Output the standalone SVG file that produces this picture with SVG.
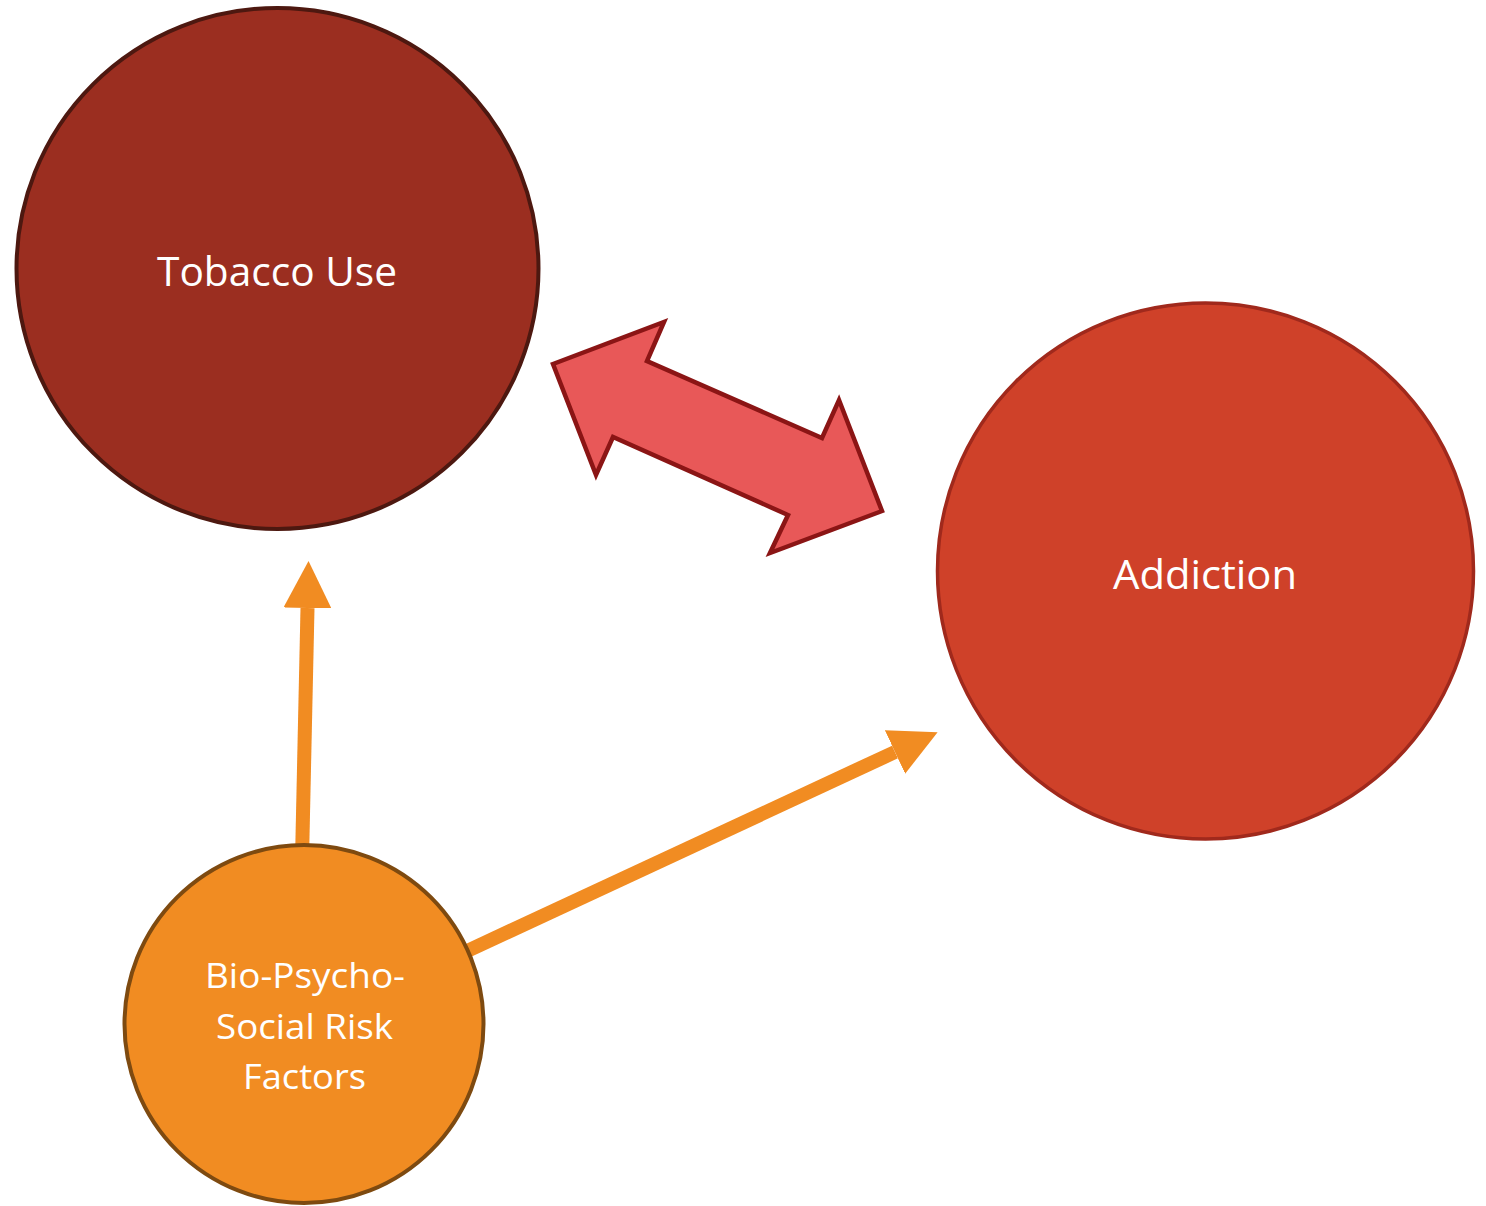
<svg xmlns="http://www.w3.org/2000/svg" width="1486" height="1206" viewBox="0 0 1486 1206">
  <style>
    .label { font-family: "Open Sans", "Liberation Sans", sans-serif; fill: #ffffff; text-anchor: middle; }
    .flow { stroke: #f18c22; stroke-width: 14; fill: none; }
  </style>
  <defs>
    <marker id="head" markerUnits="userSpaceOnUse" viewBox="0 0 47 48" markerWidth="47" markerHeight="48" refX="0" refY="24" orient="auto">
      <path d="M0,0 L47,24 L0,48 Z" fill="#f18c22"/>
    </marker>
  </defs>
  <rect width="1486" height="1206" fill="#ffffff"/>

  <!-- connectors -->
  <g id="connectors">
    <line class="flow" x1="302" y1="860" x2="307.5" y2="608" marker-end="url(#head)"/>
    <line class="flow" x1="450" y1="959" x2="895" y2="752" marker-end="url(#head)"/>
    <polygon id="mutual" points="553,364 664,322 647,361 822,438 839,400 882,511 770,553 788,515 613,437 596,475"
             fill="#e85858" stroke="#8b1515" stroke-width="4.5" stroke-linejoin="miter"/>
  </g>

  <!-- nodes -->
  <g id="tobacco">
    <ellipse cx="277.5" cy="268.5" rx="261" ry="260.5" fill="#9b2e20" stroke="#4d1810" stroke-width="4"/>
    <text class="label" x="277" y="286" font-size="41" textLength="240" lengthAdjust="spacingAndGlyphs">Tobacco Use</text>
  </g>
  <g id="addiction">
    <ellipse cx="1205.5" cy="571" rx="268" ry="268" fill="#cf4129" stroke="#a0291c" stroke-width="3.5"/>
    <text class="label" x="1205" y="589" font-size="41" textLength="184" lengthAdjust="spacingAndGlyphs">Addiction</text>
  </g>
  <g id="risk-factors">
    <ellipse cx="304" cy="1024" rx="179.5" ry="179" fill="#f18c22" stroke="#7e4a10" stroke-width="4"/>
    <text class="label" x="305" y="988" font-size="35" textLength="200" lengthAdjust="spacingAndGlyphs">Bio-Psycho-</text>
    <text class="label" x="304.5" y="1039" font-size="35" textLength="177" lengthAdjust="spacingAndGlyphs">Social Risk</text>
    <text class="label" x="304.5" y="1089" font-size="35" textLength="123" lengthAdjust="spacingAndGlyphs">Factors</text>
  </g>
</svg>
